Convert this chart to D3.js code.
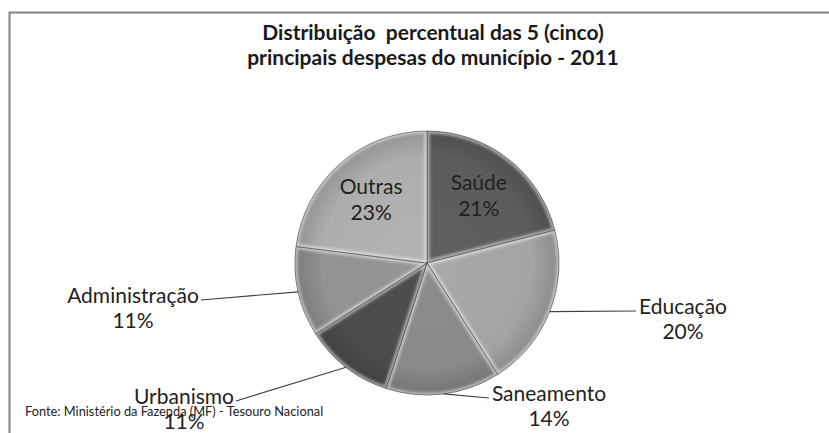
<!DOCTYPE html>
<html><head><meta charset="utf-8">
<script src="https://cdn.jsdelivr.net/npm/d3@7"></script>
<style>html,body{margin:0;padding:0;background:#fff;overflow:hidden}</style>
</head><body>
<svg id="chart" width="829" height="433"></svg>
<script>
const titleLines = ["Distribuição  percentual das 5 (cinco)", "principais despesas do município - 2011"];
const categories = ["Saúde", "Educação", "Saneamento", "Urbanismo", "Administração", "Outras"];
const values = [21, 20, 14, 11, 11, 23];
const sourceNote = "Fonte: Ministério da Fazenda (MF) - Tesouro Nacional";

// styles / layout (not data)
const shades = ["#5f5f5f", "#a9a9a9", "#8d8d8d", "#4e4e4e", "#969696", "#b3b3b3"];
const inside = [true, false, false, false, false, true];
const labelOffsets = [null, [256, 43], [122, 130], [-243, 133], [-294, 32], null];
const anchors = [null, "start", "start", "end", "end", null];

const W = 829, H = 433, cx = 427, cy = 263, R = 132;
const font = "Lato, 'Open Sans', sans-serif";
const svg = d3.select("#chart");
const defs = svg.append("defs");

// frame
svg.append("rect").attr("x", 0).attr("y", 0).attr("width", W).attr("height", H).attr("fill", "#fff");
svg.append("path").attr("d", `M10,${H} V13 H${W}`).attr("fill", "none").attr("stroke", "#dcdcdc").attr("stroke-width", 1);
svg.append("path").attr("d", `M9.5,${H} V12.5 H${W}`).attr("fill", "none").attr("stroke", "#858585").attr("stroke-width", 2);

// title
svg.append("text").attr("x", 433).attr("y", 40).attr("text-anchor", "middle")
  .attr("font-family", font).attr("font-weight", "bold").attr("font-size", 21).attr("fill", "#1a1a1a")
  .selectAll("tspan").data(titleLines).join("tspan")
  .attr("x", 433).attr("dy", (d, i) => i ? 24.5 : 0)
  .style("white-space", "pre").text(d => d);

const pie = d3.pie().sort(null).value(d => d.v);
const arcs = pie(categories.map((c, i) => ({c, v: values[i], i})));
const arc = d3.arc().innerRadius(0).outerRadius(R);

const blur = defs.append("filter").attr("id", "blur").attr("x", "-20%").attr("y", "-20%").attr("width", "140%").attr("height", "140%");
blur.append("feGaussianBlur").attr("stdDeviation", 1.6);

const rg = defs.append("radialGradient").attr("id", "rim").attr("cx", 0).attr("cy", 0).attr("r", R).attr("gradientUnits", "userSpaceOnUse");
rg.append("stop").attr("offset", 0).attr("stop-color", "#000").attr("stop-opacity", 0);
rg.append("stop").attr("offset", 0.8).attr("stop-color", "#000").attr("stop-opacity", 0.03);
rg.append("stop").attr("offset", 0.96).attr("stop-color", "#000").attr("stop-opacity", 0.15);
rg.append("stop").attr("offset", 1).attr("stop-color", "#000").attr("stop-opacity", 0.25);

const g = svg.append("g").attr("transform", `translate(${cx},${cy})`);
arcs.forEach((a, i) => {
  defs.append("clipPath").attr("id", "clip" + i).append("path").attr("d", arc(a));
});
const sl = g.selectAll("g.slice").data(arcs).join("g").attr("class", "slice");
sl.append("path").attr("d", arc).attr("fill", d => shades[d.index]);
sl.append("path").attr("d", arc).attr("fill", "url(#rim)").attr("clip-path", d => `url(#clip${d.index})`);
sl.append("path").attr("d", arc).attr("fill", "none").attr("stroke", "#fff").attr("stroke-opacity", 0.55)
  .attr("stroke-width", 5).attr("filter", "url(#blur)").attr("clip-path", d => `url(#clip${d.index})`);
sl.append("path").attr("d", arc).attr("fill", "none").attr("stroke", "#3a3a3a").attr("stroke-opacity", 0.55).attr("stroke-width", 1);

// labels
const lab = svg.append("g").attr("font-family", font).attr("font-size", 21).attr("fill", "#222");
arcs.forEach((a, i) => {
  const lines = [categories[i], values[i] + "%"];
  if (inside[i]) {
    const mid = (a.startAngle + a.endAngle) / 2, r = 0.64 * R;
    const x = cx + r * Math.sin(mid), y = cy - r * Math.cos(mid);
    lines.forEach((t, k) => lab.append("text").attr("x", x).attr("y", y - 6 + k * 26).attr("text-anchor", "middle").text(t));
  } else {
    const [dx, dy] = labelOffsets[i];
    const tx = cx + dx, ty = cy + dy;
    const t1 = lab.append("text").attr("x", tx).attr("y", ty + 7.5).attr("text-anchor", "middle").text(lines[0]);
    lab.append("text").attr("x", tx).attr("y", ty + 33).attr("text-anchor", "middle").text(lines[1]);
    const w = t1.node().getComputedTextLength();
    const mid = (a.startAngle + a.endAngle) / 2;
    const sx = cx + R * Math.sin(mid), sy = cy - R * Math.cos(mid);
    const ex = anchors[i] === "start" ? tx - w / 2 - 3 : tx + w / 2 + 2;
    svg.append("line").attr("x1", sx).attr("y1", sy).attr("x2", ex).attr("y2", ty + 5)
      .attr("stroke", "#404040").attr("stroke-width", 1.2);
  }
});

// source note
svg.append("text").attr("x", 25).attr("y", 416).attr("font-family", font).attr("font-size", 12.8)
  .attr("fill", "#222").text(sourceNote);
</script>
</body></html>
